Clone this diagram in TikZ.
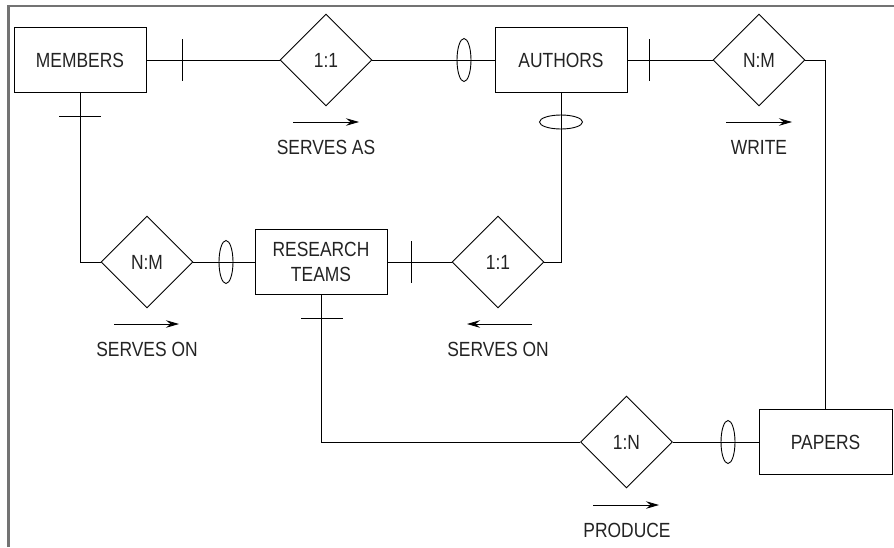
\documentclass[tikz,border=0pt]{standalone}
\usepackage{fontspec}
\setmainfont[FakeStretch=0.85]{Liberation Sans}
\usetikzlibrary{shapes.geometric,arrows.meta}
\definecolor{txt}{RGB}{35,35,35}
\definecolor{framegray}{RGB}{115,115,115}
\begin{document}
\begin{tikzpicture}[x=1pt,y=-1pt,
  line width=0.9pt,
  every node/.style={font=\fontsize{20.5}{25}\selectfont, text=txt},
  entity/.style={draw, rectangle, minimum width=132pt, minimum height=65pt, inner sep=0pt},
  rel/.style={draw, diamond, minimum width=92pt, minimum height=92pt, inner sep=0pt},
  oval/.style={draw, ellipse, minimum width=14pt, minimum height=43pt, inner sep=0pt},
  hoval/.style={draw, ellipse, minimum width=43pt, minimum height=14pt, inner sep=0pt},
  dirarrow/.style={line width=0.8pt, -{Stealth[length=13pt,width=7.5pt,inset=4.5pt]}},
  lbl/.style={inner sep=0pt}
]
\useasboundingbox (0,0) rectangle (894,547);
\draw[framegray, line width=2.2pt] (8.5,547) -- (8.5,6) -- (894,6);

% entities and relationships
\node[entity] (members) at (80,60) {MEMBERS};
\node[rel] (r1) at (326,60) {1:1};
\node[entity] (authors) at (561,60) {AUTHORS};
\node[rel] (r2) at (759,60) {N:M};
\node[rel] (r3) at (147,262) {N:M};
\node[entity, align=center] (teams) at (321,262) {RESEARCH\\TEAMS};
\node[rel] (r4) at (498,262) {1:1};
\node[rel] (r5) at (626.5,442) {1:N};
\node[entity, minimum width=133pt] (papers) at (825.5,442) {PAPERS};

% connectors
\draw (members.east) -- (r1.west);
\draw (r1.east) -- (authors.west);
\draw (authors.east) -- (r2.west);
\draw (r2.east) -| (papers.north);
\draw (members.south) |- (r3.west);
\draw (r3.east) -- (teams.west);
\draw (teams.east) -- (r4.west);
\draw (r4.east) -| (authors.south);
\draw (teams.south) |- (r5.west);
\draw (r5.east) -- (papers.west);

% cardinality marks
\draw (182,39) -- (182,81);
\draw (649,39) -- (649,81);
\draw (411,241) -- (411,283);
\draw (59,116) -- (101,116);
\draw (301,318) -- (343,318);
\node[oval] (o1) at (464,60) {};
\node[oval] (o2) at (226,262) {};
\node[oval] (o3) at (728,442) {};
\node[hoval] (o4) at (561,122) {};

% labels
\node[lbl] (l1) at (326,147) {SERVES AS};
\node[lbl] (l2) at (759,147) {WRITE};
\node[lbl] (l3) at (147,349) {SERVES ON};
\node[lbl] (l4) at (498,349) {SERVES ON};
\node[lbl] (l5) at (627,530) {PRODUCE};
\draw[dirarrow] (293,122) -- (359,122);
\draw[dirarrow] (726,122) -- (792,122);
\draw[dirarrow] (114,324) -- (179,324);
\draw[dirarrow] (532,324) -- (467,324);
\draw[dirarrow] (593,505) -- (659,505);
\end{tikzpicture}
\end{document}
